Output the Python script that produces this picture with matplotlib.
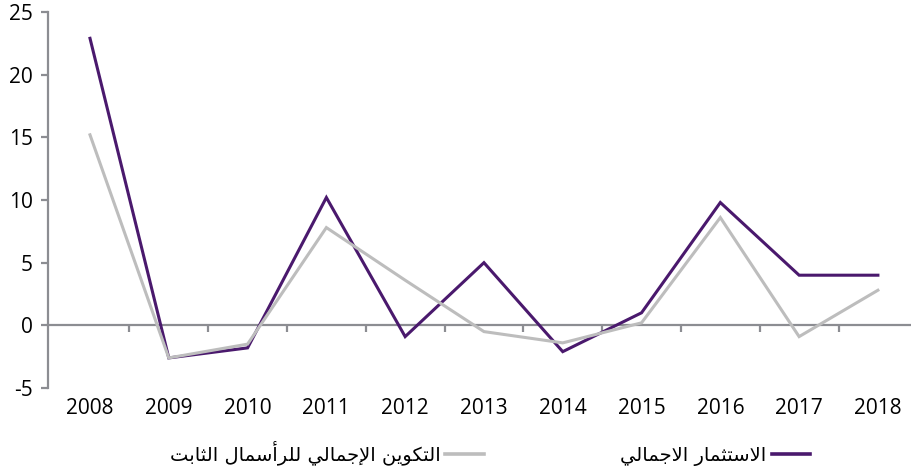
import matplotlib
matplotlib.use("Agg")
import matplotlib.pyplot as plt
from matplotlib.lines import Line2D

# ---- data -------------------------------------------------------------
years = ["2008", "2009", "2010", "2011", "2012", "2013",
         "2014", "2015", "2016", "2017", "2018"]
total_investment = [22.9, -2.6, -1.8, 10.2, -0.9, 5.0, -2.1, 1.0, 9.8, 4.0, 4.0]
fixed_capital = [15.2, -2.6, -1.5, 7.8, 3.6, -0.5, -1.4, 0.2, 8.6, -0.9, 2.8]
label_investment = "الاستثمار الاجمالي"
label_fixed = "التكوين الإجمالي للرأسمال الثابت"
y_ticks = [-5, 0, 5, 10, 15, 20, 25]

# ---- minimal Arabic shaping (contextual forms + lam-alef, visual order) ----
FORMS = {
    "ا": (0xFE8D, 0xFE8E, None, None),
    "أ": (0xFE83, 0xFE84, None, None),
    "إ": (0xFE87, 0xFE88, None, None),
    "ب": (0xFE8F, 0xFE90, 0xFE91, 0xFE92),
    "ت": (0xFE95, 0xFE96, 0xFE97, 0xFE98),
    "ث": (0xFE99, 0xFE9A, 0xFE9B, 0xFE9C),
    "ج": (0xFE9D, 0xFE9E, 0xFE9F, 0xFEA0),
    "ر": (0xFEAD, 0xFEAE, None, None),
    "س": (0xFEB1, 0xFEB2, 0xFEB3, 0xFEB4),
    "ك": (0xFED9, 0xFEDA, 0xFEDB, 0xFEDC),
    "ل": (0xFEDD, 0xFEDE, 0xFEDF, 0xFEE0),
    "م": (0xFEE1, 0xFEE2, 0xFEE3, 0xFEE4),
    "ن": (0xFEE5, 0xFEE6, 0xFEE7, 0xFEE8),
    "و": (0xFEED, 0xFEEE, None, None),
    "ي": (0xFEF1, 0xFEF2, 0xFEF3, 0xFEF4),
    "ـ": (0x0640, 0x0640, 0x0640, 0x0640),
}
LAM_ALEF = {"ا": (0xFEFB, 0xFEFC), "أ": (0xFEF7, 0xFEF8), "إ": (0xFEF9, 0xFEFA)}


def joins_forward(c):
    return c in FORMS and FORMS[c][2] is not None


def shape_arabic(text):
    out = []
    i, n = 0, len(text)
    while i < n:
        c = text[i]
        prev = text[i - 1] if i > 0 else ""
        linked_prev = joins_forward(prev)
        if c == "ل" and i + 1 < n and text[i + 1] in LAM_ALEF:
            iso, fin = LAM_ALEF[text[i + 1]]
            out.append(chr(fin if linked_prev else iso))
            i += 2
            continue
        if c not in FORMS:
            out.append(c)
            i += 1
            continue
        nxt = text[i + 1] if i + 1 < n else ""
        linked_next = joins_forward(c) and nxt in FORMS
        iso, fin, ini, med = FORMS[c]
        if linked_prev and linked_next:
            g = med
        elif linked_prev:
            g = fin
        elif linked_next:
            g = ini
        else:
            g = iso
        out.append(chr(g))
        i += 1
    return "".join(reversed(out))


# ---- style ------------------------------------------------------------
PURPLE = "#4A196D"
LIGHT_GREY = "#BDBDBD"
AXIS_GREY = "#8C8D92"

plt.rcParams["font.family"] = ["Open Sans", "DejaVu Sans"]

fig = plt.figure(figsize=(9.11, 4.68), dpi=100)
ax = fig.add_axes([48 / 911, 1 - 388 / 468, 1 - 48 / 911, (388 - 12) / 468])

x = list(range(len(years)))
ax.plot(x, total_investment, color=PURPLE, lw=2.2, solid_joinstyle="miter")
ax.plot(x, fixed_capital, color=LIGHT_GREY, lw=2.2, solid_joinstyle="miter")

ax.set_xlim(-0.533, 10.42)
ax.set_ylim(-5, 25)

for side in ("top", "right", "bottom"):
    ax.spines[side].set_visible(False)
ax.spines["left"].set_color(AXIS_GREY)
ax.spines["left"].set_linewidth(1.6)

ax.set_yticks(y_ticks)
ax.set_yticklabels([str(v) for v in y_ticks])
ax.tick_params(axis="y", length=5, width=1.6, color=AXIS_GREY,
               labelsize=15, pad=6, labelcolor="black")

ax.set_xticks(x)
ax.set_xticklabels(years)
ax.tick_params(axis="x", length=0, labelsize=15, pad=7, labelcolor="black")

# zero line carrying the category separators
zero_axis = ax.secondary_xaxis(5 / 30)
zero_axis.spines["bottom"].set_color(AXIS_GREY)
zero_axis.spines["bottom"].set_linewidth(1.6)
zero_axis.set_xticks([v + 0.5 for v in x[:-1]])
zero_axis.set_xticklabels([])
zero_axis.tick_params(axis="x", length=5, width=1.6, color=AXIS_GREY, direction="out")

handles = [
    Line2D([], [], color=LIGHT_GREY, lw=2.6),
    Line2D([], [], color=PURPLE, lw=2.6),
]
labels = [shape_arabic(label_fixed), shape_arabic(label_investment)]
fig.legend(handles, labels, loc="center", bbox_to_anchor=(0.538, 0.032),
           ncol=2, frameon=False, markerfirst=False, handlelength=2.0,
           handletextpad=0.25, columnspacing=7.0,
           prop={"family": "DejaVu Sans", "size": 14})

fig.savefig("out.png", dpi=100)
